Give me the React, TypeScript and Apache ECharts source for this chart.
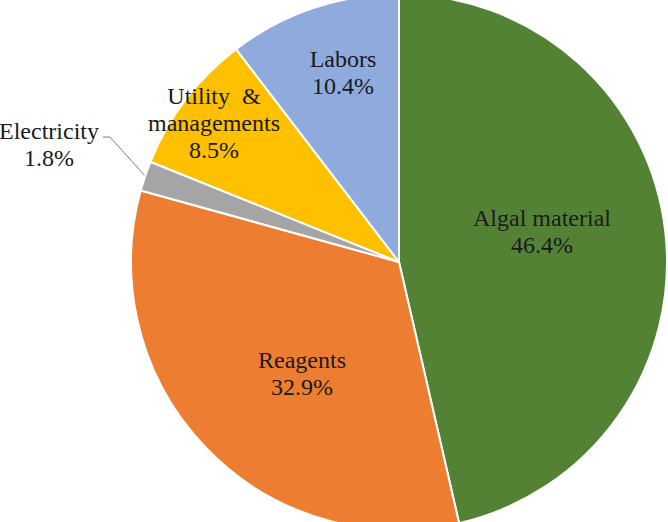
import React, { useEffect, useRef } from "react";
import * as echarts from "echarts";

const categories = ["Algal material", "Reagents", "Electricity", "Utility  &\nmanagements", "Labors"];
const values = [46.4, 32.9, 1.8, 8.5, 10.4];
const colors = ["#548235", "#ED7D31", "#A5A5A5", "#FFC000", "#8FAADC"];

// label placement (offsets from pie centre, px)
const CX = 399;
const CY = 262;
const R = 268;
const labelOffsets: (number[] | null)[] = [[143, -31], [-97, 111], null, [-185, -139], [-56, -190]];
const FONT = "Liberation Serif";

const textStyleBase = {
  fontFamily: FONT,
  fontSize: 24,
  lineHeight: 27,
  color: "#1a1a1a",
};

export default function App() {
  const ref = useRef<HTMLDivElement>(null);
  useEffect(() => {
    if (!ref.current) return;
    const chart = echarts.init(ref.current, undefined, { renderer: "svg" });
    const total = values.reduce((a, b) => a + b, 0);
    chart.setOption({
      animation: false,
      backgroundColor: "#ffffff",
      textStyle: { fontFamily: FONT, fontSize: 24 },
      series: [
        {
          type: "pie",
          center: [CX, CY],
          radius: R,
          startAngle: 90,
          clockwise: true,
          avoidLabelOverlap: false,
          itemStyle: { borderColor: "#ffffff", borderWidth: 2 },
          label: {
            show: true,
            position: "inside",
            ...textStyleBase,
            align: "center",
            formatter: (p: any) =>
              p.name
                .split("\n")
                .concat([p.value.toFixed(1) + "%"])
                .map((s: string) => `{t|${s}}`)
                .join("\n"),
            rich: { t: { ...textStyleBase, align: "center" } },
          },
          labelLine: { show: false },
          labelLayout: (p: any) => {
            const i = p.dataIndex;
            if (i === 2) {
              let before = 0;
              for (let k = 0; k < i; k++) before += values[k];
              const mid = ((before + values[i] / 2) / total) * Math.PI * 2;
              const ex = CX + R * Math.sin(mid);
              const ey = CY - R * Math.cos(mid);
              return {
                x: 49,
                y: 144,
                align: "center",
                verticalAlign: "middle",
                labelLinePoints: [[ex, ey], [110, 137], [103, 137]],
              };
            }
            const o = labelOffsets[i] as number[];
            return { x: CX + o[0], y: CY + o[1], align: "center", verticalAlign: "middle" };
          },
          data: categories.map((name, i) => ({
            name,
            value: values[i],
            itemStyle: { color: colors[i] },
            ...(i === 2
              ? {
                  label: { position: "outside" },
                  labelLine: { show: true, length: 20, length2: 8, lineStyle: { color: "#7f7f7f", width: 1 } },
                }
              : {}),
          })),
        },
      ],
    });
    return () => chart.dispose();
  }, []);
  return <div ref={ref} style={{ width: 668, height: 522, position: "absolute", left: 0, top: 0 }} />;
}
